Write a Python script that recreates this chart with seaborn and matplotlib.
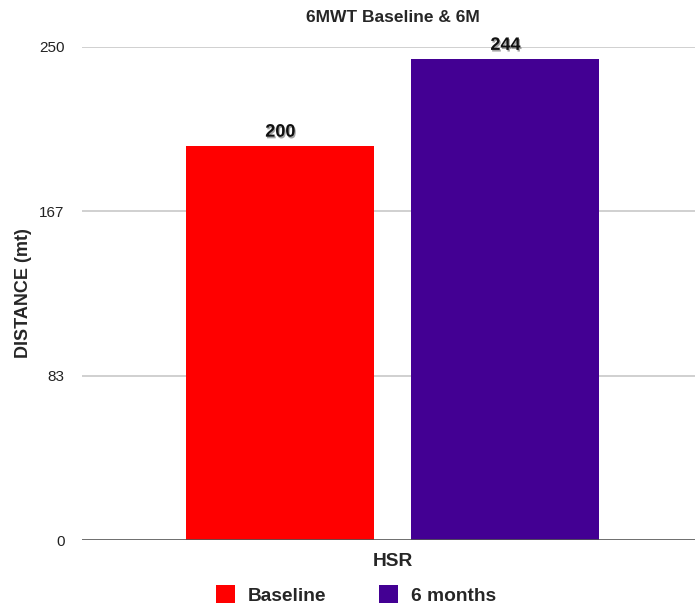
import matplotlib
matplotlib.use("Agg")
import matplotlib.pyplot as plt
import matplotlib.patheffects as pe
import seaborn as sns
import pandas as pd

# Six-minute walk test distance for the HSR group
category = ["HSR", "HSR"]
timepoints = ["Baseline", "6 months"]
distances = [200, 244]
bar_colors = ["#FF0000", "#430093"]
y_ticks = [0, 250 / 3, 500 / 3, 250]
y_tick_labels = ["0", "83", "167", "250"]

df = pd.DataFrame({"group": category, "period": timepoints, "distance": distances})

sns.set_theme(style="white")
plt.rcParams["font.family"] = ["Liberation Sans", "DejaVu Sans"]

fig = plt.figure(figsize=(6.95, 6.08), dpi=100)
ax = fig.add_axes([82 / 695, 68 / 608, 613 / 695, 493 / 608])

sns.barplot(data=df, x="group", y="distance", hue="period",
            palette=bar_colors, width=0.87, gap=0.164, saturation=1,
            legend=True, ax=ax, edgecolor="none")

ax.set_ylim(0, 250)
ax.set_xlim(-0.601, 0.584)
ax.set_yticks(y_ticks)
ax.set_yticklabels(y_tick_labels, fontsize=11, color="#222222")
ax.tick_params(axis="y", length=0, pad=12.5)
ax.tick_params(axis="x", length=0, labelbottom=False)

# Horizontal grid lines, with a darker baseline
for t in y_ticks[1:]:
    ax.axhline(t, color="#c4c4c4", lw=1.1, zorder=0)
ax.axhline(0, color="#555555", lw=1.2, zorder=3)
for s in ax.spines.values():
    s.set_visible(False)

ax.set_xlabel("")
ax.set_ylabel("DISTANCE (mt)", fontsize=13, fontweight="bold")
ax.yaxis.set_label_coords(-50 / 613, 0.5)

ax.text(0, 1.0 + 30 / 493, "6MWT Baseline & 6M", transform=ax.get_xaxis_transform(),
        ha="center", va="center", fontsize=12.5, fontweight="bold")
ax.text(0, -22 / 493, "HSR", transform=ax.get_xaxis_transform(),
        ha="center", va="center", fontsize=13.8, fontweight="bold")

shadow = [pe.withSimplePatchShadow(offset=(0.8, -1.2), shadow_rgbFace="#666666", alpha=0.6)]
for patch, val in zip(ax.patches, distances):
    cx = patch.get_x() + patch.get_width() / 2
    ax.text(cx, val + 2.5, f"{val}", ha="center", va="bottom", fontsize=13,
            fontweight="bold", color="#111111", path_effects=shadow)

handles, labels = ax.get_legend_handles_labels()
ax.legend(handles, labels, loc="center", bbox_to_anchor=(356 / 695, 1 - 595 / 608),
          bbox_transform=fig.transFigure, ncol=2, frameon=False,
          prop={"weight": "bold", "size": 13.8}, handlelength=1.0, handleheight=1.0,
          handletextpad=0.68, columnspacing=2.76)

fig.savefig("out.png", dpi=100)
